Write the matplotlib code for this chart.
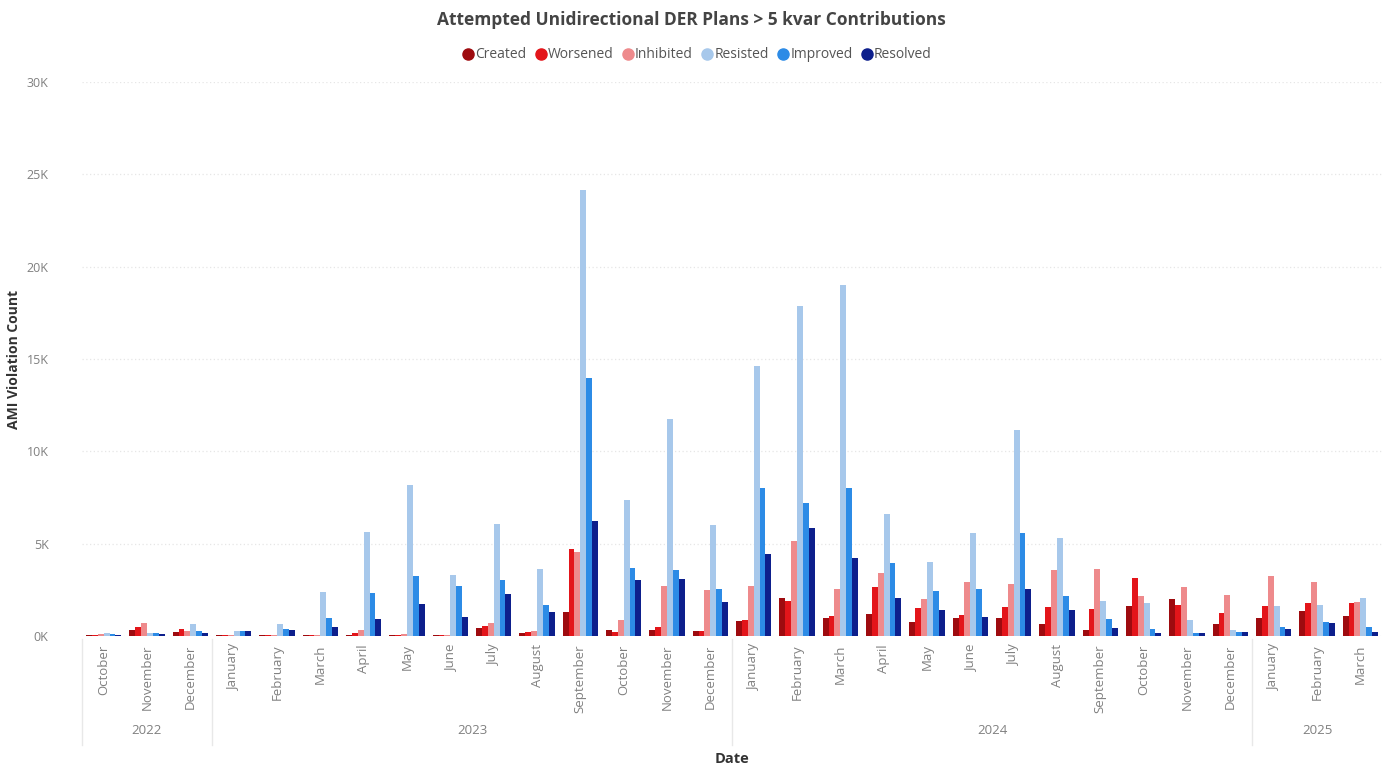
import matplotlib
matplotlib.use("Agg")
import matplotlib.pyplot as plt
import matplotlib.transforms as mtransforms
import numpy as np

plt.rcParams['font.family'] = ['Open Sans', 'DejaVu Sans']

months = ["October", "November", "December",
          "January", "February", "March", "April", "May", "June", "July", "August",
          "September", "October", "November", "December",
          "January", "February", "March", "April", "May", "June", "July", "August",
          "September", "October", "November", "December",
          "January", "February", "March"]
years = ["2022", "2023", "2024", "2025"]
year_counts = [3, 12, 12, 3]

series_names = ["Created", "Worsened", "Inhibited", "Resisted", "Improved", "Resolved"]
series_colors = ["#9E0B0F", "#E3151A", "#EE8A8C", "#A7C8EB", "#2C8BE6", "#0D1F8C"]

created = [50, 300, 200, 50, 50, 30, 80, 50, 50, 430, 160,
           1320, 325, 325, 290, 810, 2050, 960, 1190, 775, 960, 990, 650,
           325, 1640, 2000, 630, 1000, 1340, 1100]
worsened = [80, 500, 400, 50, 50, 40, 150, 80, 50, 560, 215,
            4700, 235, 470, 290, 870, 1900, 1080, 2670, 1500, 1140, 1590, 1590,
            1460, 3160, 1700, 1250, 1650, 1760, 1800]
inhibited = [100, 700, 250, 80, 80, 50, 325, 100, 50, 690, 270,
             4570, 870, 2710, 2490, 2710, 5160, 2530, 3400, 1990, 2940, 2820, 3580,
             3610, 2170, 2640, 2200, 3250, 2930, 1860]
resisted = [150, 150, 650, 250, 650, 2400, 5650, 8180, 3300, 6050, 3615,
            24170, 7370, 11740, 6020, 14630, 17890, 19020, 6600, 4000, 5570, 11170, 5300,
            1900, 1790, 870, 330, 1650, 1700, 2040]
improved = [100, 150, 250, 250, 400, 1000, 2310, 3250, 2710, 3035, 1680,
            13970, 3670, 3580, 2530, 8000, 7190, 8040, 3940, 2460, 2550, 5570, 2180,
            900, 400, 180, 200, 470, 780, 470]
resolved = [50, 100, 150, 250, 300, 500, 920, 1720, 1010, 2275, 1280,
            6250, 3035, 3070, 1860, 4430, 5870, 4210, 2040, 1410, 1050, 2550, 1410,
            420, 150, 180, 200, 360, 720, 230]

data = [created, worsened, inhibited, resisted, improved, resolved]
y_ticks = [0, 5000, 10000, 15000, 20000, 25000, 30000]
y_tick_labels = ["0K", "5K", "10K", "15K", "20K", "25K", "30K"]

fig = plt.figure(figsize=(13.93, 7.68), dpi=100)
ax = fig.add_axes([82/1393, 1 - 636/768, 1300/1393, 554/768])

n = len(months)
x = np.arange(n)
bw = 0.135
for i, (name, vals, col) in enumerate(zip(series_names, data, series_colors)):
    offs = (i - 2.5) * bw
    ax.bar(x + offs, vals, width=bw, color=col, label=name, linewidth=0)

ax.set_xlim(-0.5, n - 0.5)
ax.set_ylim(0, 30000)
ax.set_yticks(y_ticks)
ax.set_yticklabels(y_tick_labels, fontsize=9, color="#808080")
ax.yaxis.grid(True, color="#E6E6E6", linestyle=(0, (1, 2)), linewidth=0.9)
ax.set_axisbelow(True)
for s in ax.spines.values():
    s.set_visible(False)
ax.tick_params(axis='y', length=0, pad=24)
ax.tick_params(axis='x', length=0, pad=6)
ax.set_xticks(x)
ax.set_xticklabels(months, rotation=90, fontsize=9.5, color="#808080", va='top')

ax.set_ylabel("AMI Violation Count", fontsize=10, fontweight='bold', color="#333333", labelpad=4)

trans = mtransforms.blended_transform_factory(ax.transData, ax.transAxes)
start = 0
bounds = [start]
for c in year_counts:
    start += c
    bounds.append(start)
for b in bounds[:-1]:
    ax.plot([b - 0.5, b - 0.5], [-0.005, -0.197], transform=trans, color="#E8E8E8",
            linewidth=1, clip_on=False)
for yr, a, b in zip(years, bounds[:-1], bounds[1:]):
    ax.text((a + b - 1) / 2, -0.171, yr, transform=trans, ha='center', va='center',
            fontsize=9.5, color="#808080")

ax.text(0.5, -0.222, "Date", transform=ax.transAxes, ha='center', va='center',
        fontsize=10.5, fontweight='bold', color="#333333")

fig.text(0.4965, 1 - 20/768, "Attempted Unidirectional DER Plans > 5 kvar Contributions",
         ha='center', va='center', fontsize=12.5, fontweight='bold', color="#444444")

handles = [plt.Line2D([0], [0], marker='o', linestyle='', markersize=8,
                      markerfacecolor=c, markeredgecolor=c) for c in series_colors]
fig.legend(handles, series_names, loc='center', bbox_to_anchor=(0.5, 1 - 55/768),
           ncol=6, frameon=False, fontsize=10, handletextpad=0.0, columnspacing=0.55,
           labelcolor="#555555", handlelength=1.0)

fig.savefig("out.png", dpi=100)
